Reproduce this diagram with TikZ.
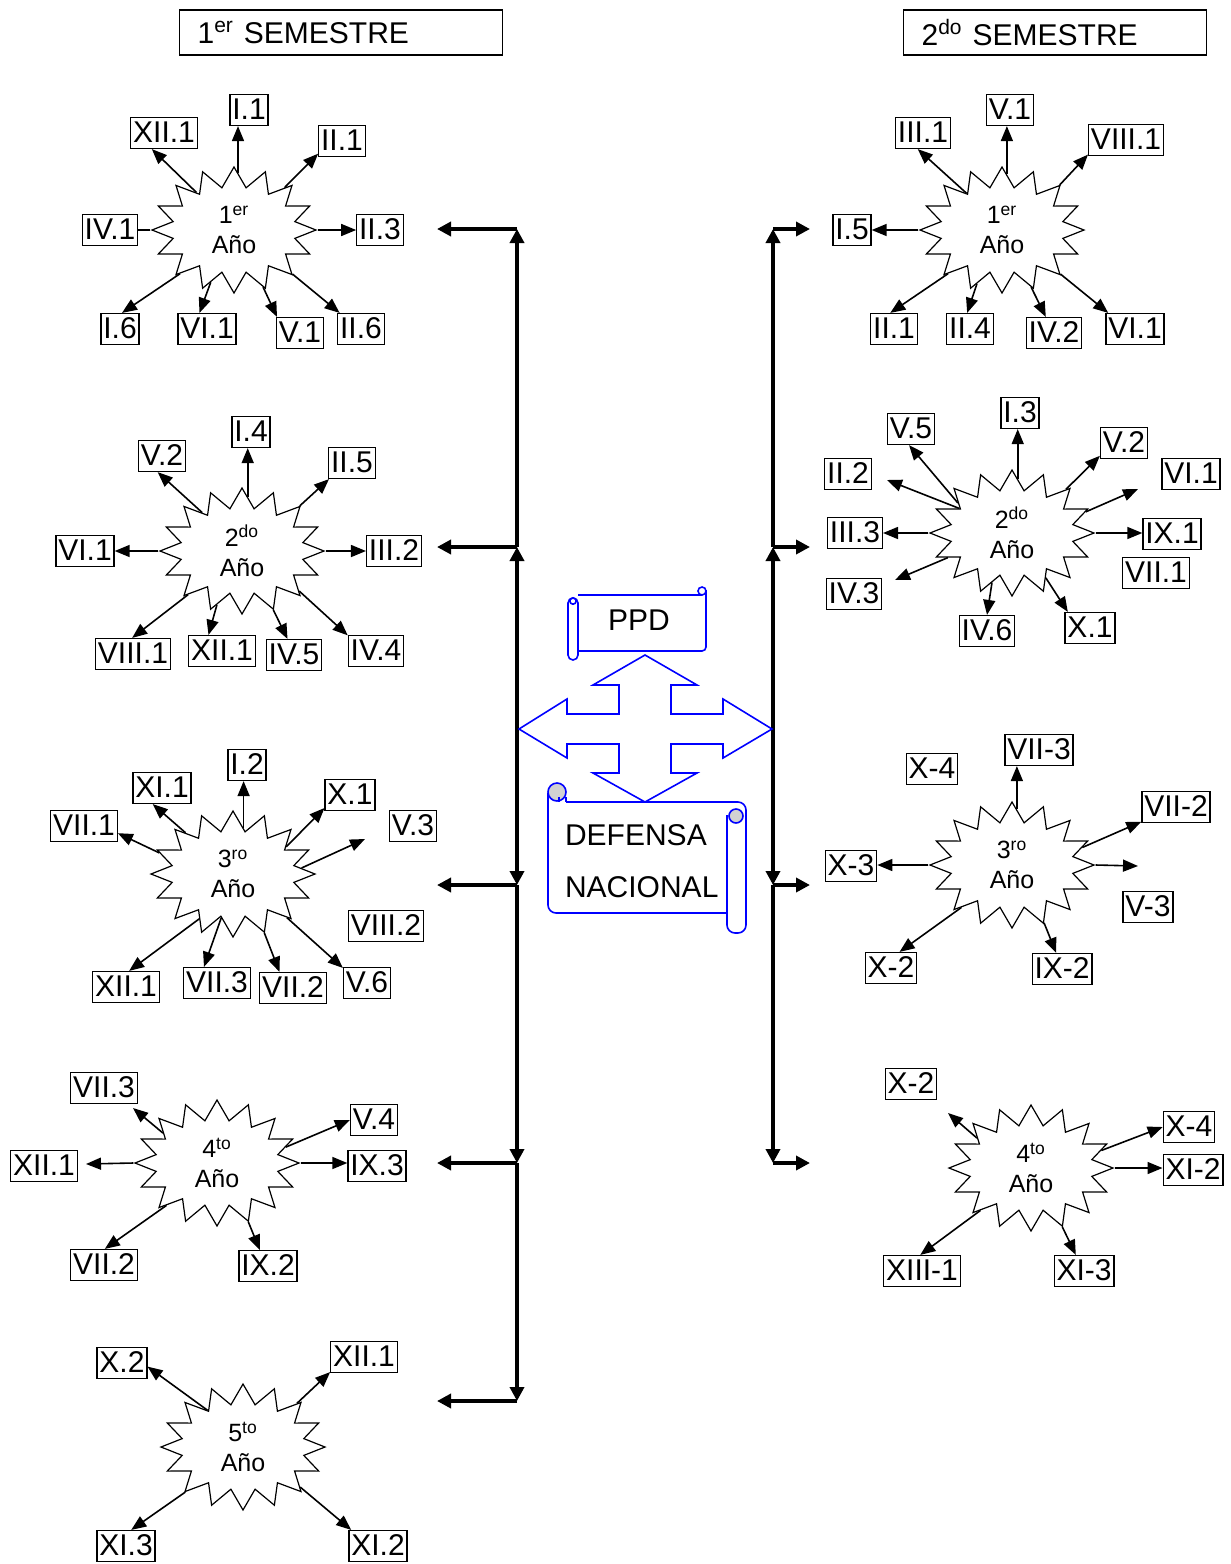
\documentclass[tikz,border=0pt]{standalone}
\usepackage{fontspec}
\setmainfont{Liberation Sans}
\usetikzlibrary{shapes.symbols,arrows.meta}

\tikzset{
  lbl/.style={draw,line width=0.6pt,inner xsep=1.2pt,inner ysep=1pt,text height=11.3pt,text depth=2.2pt,font=\fontsize{15}{18}\selectfont},
  ano/.style={starburst,draw,line width=0.6pt,starburst points=16,starburst point height=10pt,random starburst=0,minimum width=82pt,minimum height=63pt,inner sep=0pt,align=center,font=\fontsize{12.5}{15}\selectfont},
  con/.style={line width=0.8pt,-{Triangle[length=7.5pt,width=6pt]}},
  bus/.style={line width=2pt,-{Triangle[length=7pt,width=7pt]}},
  scr/.style={blue,line width=0.8pt},
  hdr/.style={draw,line width=0.6pt,minimum height=22.5pt,inner xsep=9pt,align=left,anchor=west,font=\fontsize{15}{18}\selectfont},
}

\begin{document}
\begin{tikzpicture}[x=0.5pt,y=-0.5pt]
  \useasboundingbox (0,0) rectangle (1231,1564);

  \node[hdr,text width=143.5pt] (sem1) at (179,32.5) {1\textsuperscript{er} SEMESTRE};
  \node[hdr,text width=133.5pt] (sem2) at (903,32.5) {2\textsuperscript{do} SEMESTRE};

  % bus lines
  \coordinate (bL0) at (517,730);
  \coordinate (bL1) at (517,229);
  \coordinate (bL2) at (517,547);
  \coordinate (bL3) at (517,885);
  \coordinate (bL4) at (517,1163);
  \coordinate (bL5) at (517,1401);
  \coordinate (bR0) at (773,730);
  \coordinate (bR1) at (773,229);
  \coordinate (bR2) at (773,547);
  \coordinate (bR3) at (773,885);
  \coordinate (bR4) at (773,1163);
  \draw[bus] (bL0) -- (bL2);
  \draw[bus] (bL2) -- (bL1);
  \draw[bus] (bL0) -- (bL3);
  \draw[bus] (bL3) -- (bL4);
  \draw[bus] (bL4) -- (bL5);
  \draw[bus] (bR0) -- (bR2);
  \draw[bus] (bR2) -- (bR1);
  \draw[bus] (bR0) -- (bR3);
  \draw[bus] (bR3) -- (bR4);
  \foreach \i in {1,...,5}
    \draw[bus] (bL\i) -- ++(-80,0);
  \foreach \i in {1,...,4}
    \draw[bus] (bR\i) -- ++(37,0);

  % centre
  \draw[scr] (645,655) -- (697,685) -- (671,685) -- (671,714) -- (723,714) -- (723,699)
    -- (772,729) -- (723,758) -- (723,744) -- (671,744) -- (671,773) -- (697,773)
    -- (645,802) -- (593,773) -- (619,773) -- (619,744) -- (567,744) -- (567,758)
    -- (519,729) -- (567,699) -- (567,714) -- (619,714) -- (619,685) -- (593,685) -- cycle;
  \draw[scr,rounded corners=2.5pt] (568,598) rectangle (578,660);
  \draw[scr] (573,601) circle (1.6pt);
  \draw[scr] (578,595) -- (702,595);
  \draw[scr,rounded corners=2pt] (706,590) -- (706,651) -- (578,651);
  \draw[scr] (702,591) circle (2pt);
  \node[font=\fontsize{15}{18}\selectfont] (ppd) at (639,620) {PPD};

  \draw[scr,rounded corners=4pt] (548,793) -- (548,913) -- (727,913);
  \draw[scr,rounded corners=4pt] (566,802) -- (746,802) -- (746,933) -- (727,933) -- (727,815);
  \draw[scr,fill=gray!35] (557,792) circle (4.5pt);
  \draw[scr] (559,797) -- (559,802) (566,797) -- (566,802);
  \draw[scr,fill=gray!35] (736,816) circle (3.5pt);
  \node[font=\fontsize{15}{26}\selectfont,align=left,anchor=west] (def) at (558,861) {DEFENSA\\NACIONAL};

  % 1er semestre
  \node[ano] (y1) at (234,230) {1\textsuperscript{er}\\Año};
  \node[lbl] (y1a) at (164,133) {XII.1};
  \node[lbl] (y1b) at (249,110) {I.1};
  \node[lbl] (y1c) at (342,141) {II.1};
  \node[lbl] (y1d) at (110,230) {IV.1};
  \node[lbl] (y1e) at (380,230) {II.3};
  \node[lbl] (y1f) at (120,329) {I.6};
  \node[lbl] (y1g) at (207,329) {VI.1};
  \node[lbl] (y1h) at (300,333) {V.1};
  \node[lbl] (y1i) at (361,329) {II.6};
  \draw[con] (y1.135) -- (y1a.233);
  \draw[con] (y1.86) -- (y1.86 |- y1b.south);
  \draw[con] (y1.40) -- (y1c.208);
  \draw[line width=0.8pt] (y1.180) -- (y1d.east);
  \draw[con] (y1.0) -- (y1.0 -| y1e.west);
  \draw[con] (y1.219) -- (y1f.83);
  \draw[con] (y1.246) -- (y1g.115);
  \draw[con] (y1.297) -- (y1h.145);
  \draw[con] (y1.323) -- (y1i.143);

  \node[ano] (y2) at (242,551) {2\textsuperscript{do}\\Año};
  \node[lbl] (y2a) at (162,456) {V.2};
  \node[lbl] (y2b) at (251,432) {I.4};
  \node[lbl] (y2c) at (352,463) {II.5};
  \node[lbl] (y2d) at (85,551) {VI.1};
  \node[lbl] (y2e) at (394,551) {III.2};
  \node[lbl] (y2f) at (133,654) {VIII.1};
  \node[lbl] (y2g) at (222,651) {XII.1};
  \node[lbl] (y2h) at (294,655) {IV.5};
  \node[lbl] (y2i) at (376,651) {IV.4};
  \draw[con] (y2.136) -- (y2a.255);
  \draw[con] (y2.84) -- (y2.84 |- y2b.south);
  \draw[con] (y2.38) -- (y2c.215);
  \draw[con] (y2.180) -- (y2.180 -| y2d.east);
  \draw[con] (y2.0) -- (y2.0 -| y2e.west);
  \draw[con] (y2.219) -- (y2f.93);
  \draw[con] (y2.245) -- (y2g.130);
  \draw[con] (y2.298) -- (y2h.112);
  \draw[con] (y2.325) -- (y2i.151);

  \node[ano] (y3) at (233,874) {3\textsuperscript{ro}\\Año};
  \node[lbl] (y3a) at (162,788) {XI.1};
  \node[lbl] (y3b) at (247,765) {I.2};
  \node[lbl] (y3c) at (350,795) {X.1};
  \node[lbl] (y3d) at (413,826) {V.3};
  \node[lbl] (y3e) at (84,826) {VII.1};
  \node[lbl] (y3f) at (386,926) {VIII.2};
  \node[lbl] (y3g) at (367,983) {V.6};
  \node[lbl] (y3h) at (126,987) {XII.1};
  \node[lbl] (y3i) at (217,983) {VII.3};
  \node[lbl] (y3j) at (293,988) {VII.2};
  \coordinate (y3v) at (365,839);
  \draw[con] (y3.139) -- (y3a.240);
  \draw[con] (y3.77) -- (y3.77 |- y3b.south);
  \draw[con] (y3.27) -- (y3c.207);
  \draw[con] (y3.5) -- (y3v);
  \draw[con] (y3.164) -- (y3e.348);
  \draw[con] (y3.321) -- (y3g.148);
  \draw[con] (y3.233) -- (y3h.79);
  \draw[con] (y3.255) -- (y3i.129);
  \draw[con] (y3.298) -- (y3j.130);

  \node[ano] (y4) at (217,1163) {4\textsuperscript{to}\\Año};
  \node[lbl] (y4a) at (104,1088) {VII.3};
  \node[lbl] (y4b) at (44,1166) {XII.1};
  \node[lbl] (y4c) at (374,1120) {V.4};
  \node[lbl] (y4d) at (377,1166) {IX.3};
  \node[lbl] (y4e) at (104,1265) {VII.2};
  \node[lbl] (y4f) at (268,1266) {IX.2};
  \coordinate (y4p) at (133,1108);
  \coordinate (y4q) at (86,1164);
  \draw[con] (y4.151) -- (y4p);
  \draw[con] (y4.180) -- (y4q);
  \draw[con] (y4.13) -- (y4c.west);
  \draw[con] (y4.0) -- (y4.0 -| y4d.west);
  \draw[con] (y4.220) -- (y4e.87);
  \draw[con] (y4.298) -- (y4f.117);

  \node[ano] (y5) at (243,1447) {5\textsuperscript{to}\\Año};
  \node[lbl] (y5a) at (122,1363) {X.2};
  \node[lbl] (y5b) at (364,1357) {XII.1};
  \node[lbl] (y5c) at (126,1546) {XI.3};
  \node[lbl] (y5d) at (378,1546) {XI.2};
  \draw[con] (y5.134) -- (y5a.352);
  \draw[con] (y5.39) -- (y5b.204);
  \draw[con] (y5.218) -- (y5c.72);
  \draw[con] (y5.325) -- (y5d.149);

  % 2do semestre
  \node[ano] (z1) at (1002,230) {1\textsuperscript{er}\\Año};
  \node[lbl] (z1a) at (923,133) {III.1};
  \node[lbl] (z1b) at (1010,110) {V.1};
  \node[lbl] (z1c) at (1126,140) {VIII.1};
  \node[lbl] (z1d) at (852,230) {I.5};
  \node[lbl] (z1e) at (894,329) {II.1};
  \node[lbl] (z1f) at (970,329) {II.4};
  \node[lbl] (z1g) at (1054,333) {IV.2};
  \node[lbl] (z1h) at (1135,329) {VI.1};
  \draw[con] (z1.134) -- (z1a.252);
  \draw[con] (z1.85) -- (z1.85 |- z1b.south);
  \draw[con] (z1.38) -- (z1c.201);
  \draw[con] (z1.180) -- (z1.180 -| z1d.east);
  \draw[con] (z1.219) -- (z1e.103);
  \draw[con] (z1.245) -- (z1f.100);
  \draw[con] (z1.297) -- (z1g.117);
  \draw[con] (z1.323) -- (z1h.149);

  \node[ano] (z2) at (1012,533) {2\textsuperscript{do}\\Año};
  \node[lbl] (z2a) at (1020,413) {I.3};
  \node[lbl] (z2b) at (911,429) {V.5};
  \node[lbl] (z2c) at (1124,443) {V.2};
  \node[lbl] (z2d) at (848,474) {II.2};
  \node[lbl] (z2e) at (1191,474) {VI.1};
  \node[lbl] (z2f) at (855,533) {III.3};
  \node[lbl] (z2g) at (1172,534) {IX.1};
  \node[lbl] (z2h) at (1156,573) {VII.1};
  \node[lbl] (z2i) at (854,594) {IV.3};
  \node[lbl] (z2j) at (987,631) {IV.6};
  \node[lbl] (z2k) at (1090,628) {X.1};
  \coordinate (z2p) at (887,480);
  \coordinate (z2q) at (1138,489);
  \coordinate (z2r) at (895,580);
  \draw[con] (z2.84) -- (z2.84 |- z2a.south);
  \draw[con] (z2.151) -- (z2b.263);
  \draw[con] (z2.39) -- (z2c.208);
  \draw[con] (z2.155) -- (z2p);
  \draw[con] (z2.16) -- (z2q);
  \draw[con] (z2.180) -- (z2.180 -| z2f.east);
  \draw[con] (z2.0) -- (z2.0 -| z2g.west);
  \draw[con] (z2.201) -- (z2r);
  \draw[con] (z2.248) -- (z2j.north);
  \draw[con] (z2.307) -- (z2k.144);

  \node[ano] (z3) at (1012,865) {3\textsuperscript{ro}\\Año};
  \node[lbl] (z3a) at (1039,750) {VII-3};
  \node[lbl] (z3b) at (932,769) {X-4};
  \node[lbl] (z3c) at (1176,807) {VII-2};
  \node[lbl] (z3d) at (851,866) {X-3};
  \node[lbl] (z3e) at (1148,907) {V-3};
  \node[lbl] (z3f) at (891,968) {X-2};
  \node[lbl] (z3g) at (1062,969) {IX-2};
  \coordinate (z3p) at (1138,866);
  \draw[con] (z3.85) -- (z3.85 |- z3a.south);
  \draw[con] (z3.14) -- (z3c.203);
  \draw[con] (z3.180) -- (z3.180 -| z3d.east);
  \draw[con] (z3.0) -- (z3p);
  \draw[con] (z3.220) -- (z3f.62);
  \draw[con] (z3.299) -- (z3g.110);

  \node[ano] (z4) at (1031,1168) {4\textsuperscript{to}\\Año};
  \node[lbl] (z4a) at (911,1084) {X-2};
  \node[lbl] (z4b) at (1189,1127) {X-4};
  \node[lbl] (z4c) at (1193,1170) {XI-2};
  \node[lbl] (z4d) at (922,1271) {XIII-1};
  \node[lbl] (z4e) at (1084,1271) {XI-3};
  \coordinate (z4p) at (948,1113);
  \draw[con] (z4.151) -- (z4p);
  \draw[con] (z4.14) -- (z4b.west);
  \draw[con] (z4.0) -- (z4.0 -| z4c.west);
  \draw[con] (z4.220) -- (z4d.96);
  \draw[con] (z4.298) -- (z4e.117);
\end{tikzpicture}
\end{document}
